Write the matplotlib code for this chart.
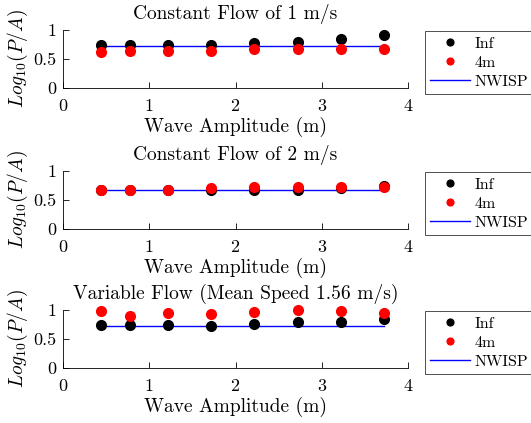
import matplotlib
matplotlib.use("Agg")
import matplotlib.pyplot as plt
from matplotlib.ticker import FixedLocator, FixedFormatter

plt.rcParams['font.family'] = 'serif'
plt.rcParams['font.serif'] = ['cmr10']
plt.rcParams['mathtext.fontset'] = 'cm'
plt.rcParams['axes.formatter.use_mathtext'] = True

amplitude = [0.44, 0.78, 1.22, 1.72, 2.22, 2.72, 3.22, 3.72]

titles = ["Constant Flow of 1 m/s", "Constant Flow of 2 m/s",
          "Variable Flow (Mean Speed 1.56 m/s)"]

inf_vals = [
    [0.74, 0.74, 0.74, 0.74, 0.77, 0.80, 0.85, 0.91],
    [0.68, 0.68, 0.67, 0.67, 0.67, 0.68, 0.70, 0.74],
    [0.74, 0.74, 0.74, 0.73, 0.76, 0.80, 0.80, 0.85],
]
m4_vals = [
    [0.62, 0.63, 0.63, 0.645, 0.67, 0.67, 0.67, 0.67],
    [0.68, 0.68, 0.68, 0.715, 0.72, 0.72, 0.73, 0.73],
    [0.99, 0.90, 0.95, 0.93, 0.965, 0.995, 0.98, 0.95],
]
nwisp_vals = [
    [0.727] * 8,
    [0.675] * 8,
    [0.72] * 8,
]

xticks = [0, 1, 2, 3, 4]
yticks = [0, 0.5, 1]
yticklabels = ["0", "0.5", "1"]

fig = plt.figure(figsize=(5.31, 4.23), dpi=100)
W, H = 531, 423
tops = [30, 171, 310]
ax_h = 58
left, width = 63, 345

for i in range(3):
    ax = fig.add_axes([left / W, 1 - (tops[i] + ax_h) / H, width / W, ax_h / H])
    ax.plot(amplitude, inf_vals[i], 'o', color='black', markersize=7, label='Inf', zorder=3)
    ax.plot(amplitude, m4_vals[i], 'o', color='red', markersize=7, label='4m', zorder=4)
    ax.plot(amplitude, nwisp_vals[i], '-', color='blue', linewidth=1.0, label='NWISP', zorder=2)
    ax.set_xlim(0, 4)
    ax.set_ylim(0, 1)
    ax.xaxis.set_major_locator(FixedLocator(xticks))
    ax.yaxis.set_major_locator(FixedLocator(yticks))
    ax.yaxis.set_major_formatter(FixedFormatter(yticklabels))
    ax.spines['top'].set_visible(False)
    ax.spines['right'].set_visible(False)
    ax.tick_params(direction='in', labelsize=13, length=4, width=0.6)
    ax.tick_params(axis='x', pad=7)
    ax.tick_params(axis='y', pad=5)
    for s in ['left', 'bottom']:
        ax.spines[s].set_linewidth(0.6)
    ax.set_title(titles[i], fontsize=14, pad=8)
    ax.set_xlabel("Wave Amplitude (m)", fontsize=14, labelpad=2)
    ax.set_ylabel(r"$Log_{10}(P/A)$", fontsize=14, labelpad=2)
    for m in ax.get_children():
        if isinstance(m, matplotlib.lines.Line2D):
            m.set_clip_on(False)
    leg = ax.legend(loc='upper left', bbox_to_anchor=(1.049, 0.985), fontsize=11.5,
                    frameon=True, fancybox=False, edgecolor='black',
                    handlelength=2.5, borderpad=0.35, labelspacing=0.3,
                    handletextpad=0.25, borderaxespad=0, markerscale=0.7)
    leg.get_frame().set_linewidth(0.6)

fig.savefig("out.png", dpi=100)
